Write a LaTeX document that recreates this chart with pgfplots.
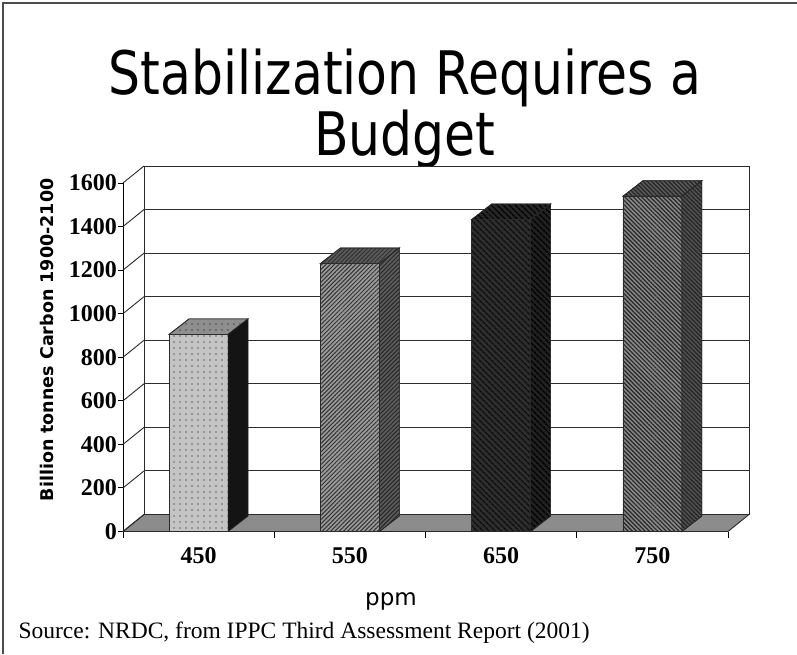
\documentclass[border=0pt]{standalone}
\usepackage{pgfplots}
\pgfplotsset{compat=1.18}
\usetikzlibrary{patterns.meta}
\usepackage{fontspec}
\setmainfont{Liberation Serif}
\newfontfamily\sansfont{DejaVu Sans}

\definecolor{edge}{HTML}{2A2A2A}
\definecolor{floorgray}{HTML}{8C8C8C}
\definecolor{gridcol}{HTML}{2E2E2E}
% 450 ppm
\definecolor{aFront}{HTML}{C4C4C4}
\definecolor{aTop}{HTML}{8E8E8E}
\definecolor{aSide}{HTML}{141414}
% 550 ppm
\definecolor{bFront}{HTML}{9A9A9A}
\definecolor{bTop}{HTML}{5A5A5A}
\definecolor{bSide}{HTML}{5C5C5C}
% 650 ppm
\definecolor{cFront}{HTML}{2E2E2E}
\definecolor{cTop}{HTML}{262626}
\definecolor{cSide}{HTML}{202020}
% 750 ppm
\definecolor{dFront}{HTML}{888888}
\definecolor{dTop}{HTML}{5A5A5A}
\definecolor{dSide}{HTML}{505050}

% depth of the floor and back wall
\tikzset{deep/.style={shift={(21pt,17pt)}}}

% top and side faces of a column, drawn at the top front centre of each data point
\pgfplotsset{
  prism/.style 2 args={
    scatter, only marks, mark=*, mark size=0pt,
    visualization depends on={rawy \as \val},
    scatter/@pre marker code/.code={%
      \pgfmathsetmacro\hlow{-\val*0.2178125}%
      \pgfmathsetmacro\hback{15.5-\val*0.2178125}%
      \filldraw[draw=edge, line width=0.7pt, #1]
        (-29.5pt,0pt) -- (29.5pt,0pt) -- (49.5pt,15.5pt) -- (-9.5pt,15.5pt) -- cycle;
      \filldraw[draw=edge, line width=0.7pt, #2]
        (29.5pt,0pt) -- (49.5pt,15.5pt) -- (49.5pt,\hback pt) -- (29.5pt,\hlow pt) -- cycle;
    },
    scatter/@post marker code/.code={},
  },
  column/.style={ybar, bar shift=0pt, bar width=59pt, draw=edge, line width=0.7pt, #1},
}

\begin{document}
\begin{tikzpicture}
\useasboundingbox (0,0) rectangle (797pt,654pt);
\fill[white] (0,0) rectangle (797pt,654pt);
\draw[line width=1.5pt, black!70] (3pt,0pt) -- (3pt,651pt) -- (797pt,651pt);

\node[font=\sansfont\fontsize{60}{64}\selectfont, xscale=0.84, anchor=base] at (405pt,559pt) {Stabilization Requires a};
\node[font=\sansfont\fontsize{60}{64}\selectfont, xscale=0.84, anchor=base] at (405pt,498pt) {Budget};

\begin{axis}[
  at={(123pt,122.5pt)}, anchor=south west,
  x=151.25pt, y=0.2178125pt,
  xmin=0, xmax=4, ymin=0, ymax=1600,
  axis lines*=left,
  axis line style={draw=black, line width=1pt},
  clip=false,
  ytick={0,200,...,1600},
  xtick={0.5,1.5,2.5,3.5},
  xticklabels={450,550,650,750},
  minor xtick={0,1,2,3,4},
  tick align=outside,
  major tick length=5pt, minor tick length=6pt,
  tick style={black, line width=0.9pt},
  major x tick style={draw=none},
  /pgf/number format/assume math mode=true,
  /pgf/number format/1000 sep={},
  ticklabel style={font=\bfseries\fontsize{24}{24}\selectfont},
  yticklabel style={inner sep=1pt},
  xticklabel style={anchor=center, yshift=-19pt},
  ylabel={Billion tonnes Carbon 1900-2100},
  ylabel style={font=\sansfont\bfseries\fontsize{17.5}{17.5}\selectfont,
    at={(rel axis cs:-0.1256,0.5495)}, anchor=center},
  xlabel={ppm},
  xlabel style={font=\sansfont\fontsize{23}{23}\selectfont,
    at={(rel axis cs:0.443,-0.211)}, anchor=base},
]
% back wall with its grid lines
\draw[fill=white, draw=edge, line width=0.9pt]
  ([deep]axis cs:0,0) rectangle ([deep]axis cs:4,1600);
\pgfplotsinvokeforeach{200,400,...,1400}{
  \draw[gridcol, line width=0.9pt] ([deep]axis cs:0,#1) -- ([deep]axis cs:4,#1);
}
% floor
\filldraw[fill=floorgray, draw=edge, line width=0.9pt]
  (axis cs:0,0) -- (axis cs:4,0) -- ([deep]axis cs:4,0) -- ([deep]axis cs:0,0) -- cycle;
% left wall edges
\pgfplotsinvokeforeach{0,200,...,1600}{
  \draw[edge, line width=0.9pt] (axis cs:0,#1) -- ([deep]axis cs:0,#1);
}

% 450 ppm
\addplot[column={fill=aFront, postaction={pattern={Dots[distance=6pt,radius=0.6pt]}, pattern color=black}}]
  coordinates {(0.5,905)};
\addplot[prism={fill=aTop, postaction={pattern={Dots[distance=6pt,radius=0.6pt]}, pattern color=black}}{fill=aSide}]
  coordinates {(0.5,905)};
% 550 ppm
\addplot[column={fill=bFront, postaction={pattern={Lines[angle=45,distance=3pt,line width=1pt]}, pattern color=black!80}}]
  coordinates {(1.5,1230)};
\addplot[prism={fill=bTop, postaction={pattern={Lines[angle=45,distance=3pt,line width=1pt]}, pattern color=black!80}}{fill=bSide, postaction={pattern={Lines[angle=45,distance=3pt,line width=1pt]}, pattern color=black!85}}]
  coordinates {(1.5,1230)};
% 650 ppm
\addplot[column={fill=cFront, postaction={pattern={Lines[angle=-45,distance=4pt,line width=1.5pt]}, pattern color=black!95}}]
  coordinates {(2.5,1432)};
\addplot[prism={fill=cTop, postaction={pattern={Lines[angle=-45,distance=4pt,line width=1.5pt]}, pattern color=black}}{fill=cSide, postaction={pattern={Lines[angle=-45,distance=4pt,line width=1.5pt]}, pattern color=black}}]
  coordinates {(2.5,1432)};
% 750 ppm
\addplot[column={fill=dFront, postaction={pattern={Lines[angle=-45,distance=3pt,line width=1.2pt]}, pattern color=black!85}}]
  coordinates {(3.5,1539)};
\addplot[prism={fill=dTop, postaction={pattern={Lines[angle=-45,distance=3pt,line width=1.2pt]}, pattern color=black!85}}{fill=dSide, postaction={pattern={Lines[angle=-45,distance=3pt,line width=1.2pt]}, pattern color=black!85}}]
  coordinates {(3.5,1539)};
\end{axis}

\node[anchor=base west, font=\fontsize{23.5}{27}\selectfont] at (15pt,16pt)
  {Source: NRDC, from IPPC Third Assessment Report (2001)};
\end{tikzpicture}
\end{document}
